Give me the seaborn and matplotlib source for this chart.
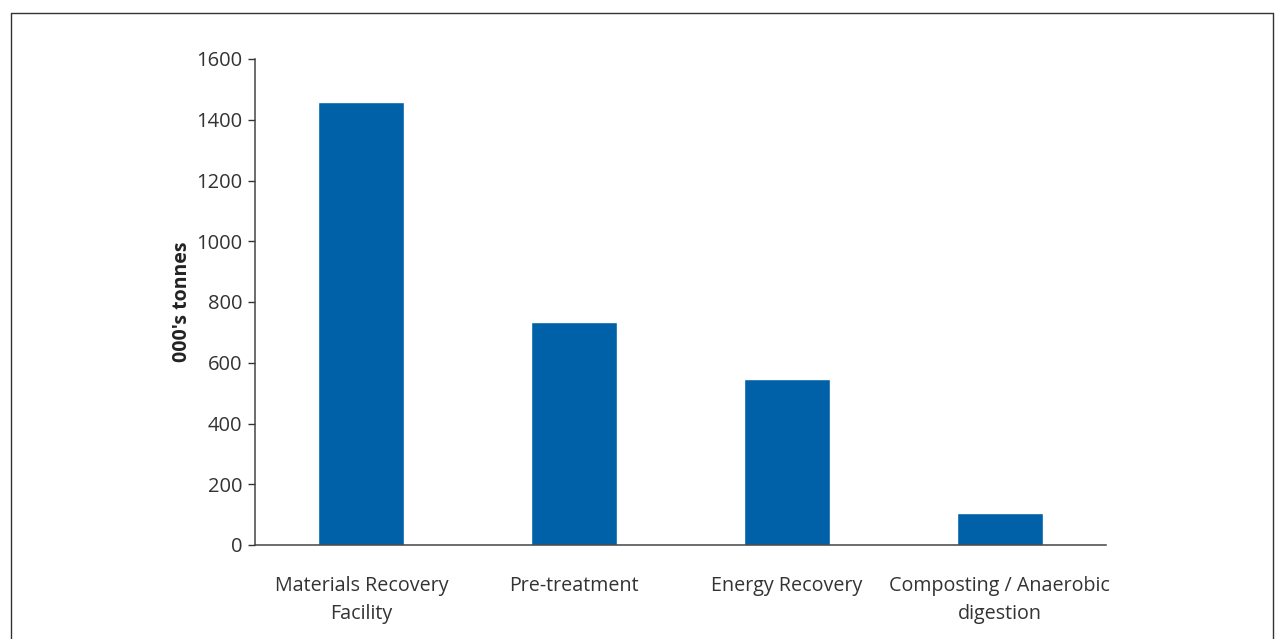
import matplotlib
matplotlib.use("Agg")
import matplotlib.pyplot as plt
import seaborn as sns
import pandas as pd
from matplotlib.lines import Line2D

categories = ["Materials Recovery\nFacility", "Pre-treatment", "Energy Recovery", "Composting / Anaerobic\ndigestion"]
values = [1460, 735, 547, 105]
y_ticks = [0, 200, 400, 600, 800, 1000, 1200, 1400, 1600]

sns.set_style("white")
plt.rcParams['font.family'] = ['Open Sans', 'DejaVu Sans']
text_color = "#333333"

df = pd.DataFrame({"cat": categories, "val": values})

fig = plt.figure(figsize=(12.83, 6.39), dpi=100)
ax = fig.add_axes([255/1283, 1 - 545/639, (1106-255)/1283, (545-59)/639])

sns.barplot(data=df, x="cat", y="val", color="#0060A8", saturation=1, width=0.405, ax=ax)

ax.set_xlim(-0.5, 3.5)
ax.set_ylim(0, 1600)
ax.set_yticks(y_ticks)
ax.set_yticklabels([str(v) for v in y_ticks], fontsize=14.5, color=text_color)
ax.set_xticks(range(len(categories)))
ax.set_xticklabels(categories, fontsize=14.2, color=text_color, linespacing=1.55)
ax.tick_params(axis="x", which="major", length=0, pad=22)
ax.set_xticks([-0.5, 0.5, 1.5, 2.5, 3.5], minor=True)
ax.tick_params(axis="x", which="minor", length=5, width=1, color="#333333", direction="out")
ax.tick_params(axis="y", length=5, width=1, color="#333333", direction="out", pad=4, left=True)

ax.set_xlabel("")
ax.set_ylabel("000's tonnes", fontsize=14, fontweight="bold", color="#222222", labelpad=3)

for s in ["top", "right"]:
    ax.spines[s].set_visible(False)
for s in ["left", "bottom"]:
    ax.spines[s].set_visible(True)
    ax.spines[s].set_color("#444444")
    ax.spines[s].set_linewidth(1.1)

# figure frame
W, H = 1283, 639
x0, x1, y0 = 10.5 / W, 1272.5 / W, 1 - 12.5 / H
for xs, ys in [([x0, x0], [0, y0]), ([x0, x1], [y0, y0]), ([x1, x1], [y0, 0])]:
    fig.add_artist(Line2D(xs, ys, transform=fig.transFigure, color="#333333", linewidth=1.0))

fig.savefig("out.png", dpi=100)
